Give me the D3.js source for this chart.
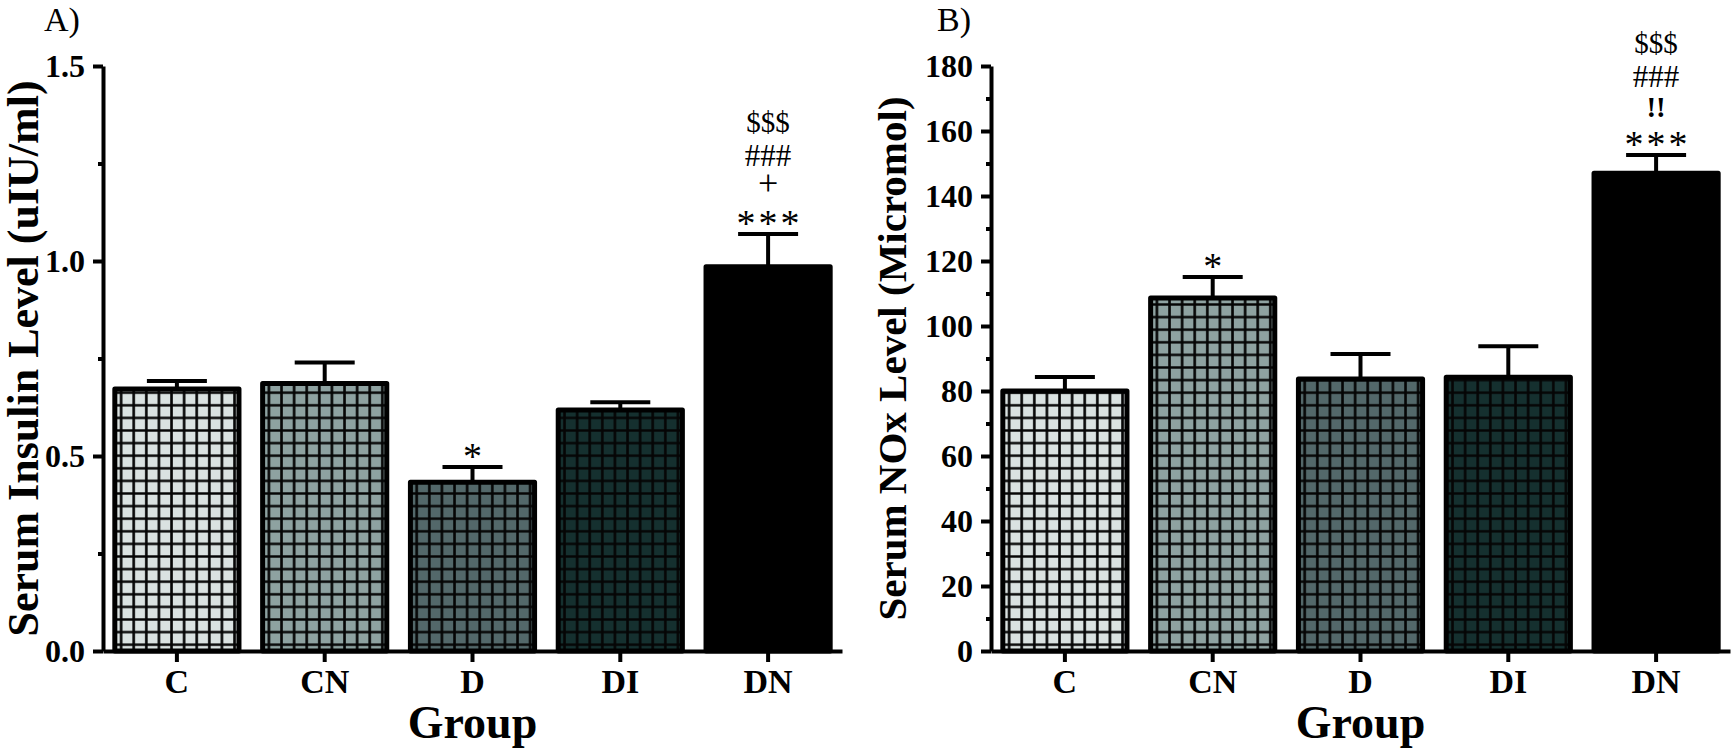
<!DOCTYPE html>
<html>
<head>
<meta charset="utf-8">
<script src="https://cdn.jsdelivr.net/npm/d3@7"></script>
<style>
  html, body { margin: 0; padding: 0; background: #ffffff; }
  svg { display: block; }
  text { font-family: "Liberation Serif", "Times New Roman", Times, serif; fill: #000; }
</style>
</head>
<body>
<svg id="chart" width="1733" height="752"></svg>
<script>
// ---------------- data ----------------
const groups = ["C", "CN", "D", "DI", "DN"];

const insulinMean = [0.672, 0.686, 0.433, 0.618, 0.985];
const insulinSEM  = [0.020, 0.054, 0.039, 0.020, 0.084];
const insulinTicks = [0, 0.5, 1.0, 1.5];
const insulinMinorTicks = [0.25, 0.75, 1.25];
const insulinMarks = [[], [], ["*"], [], ["***", "+", "###", "$$$"]];

const noxMean = [80.0, 108.6, 83.7, 84.2, 147.0];
const noxSEM  = [4.3, 6.5, 7.7, 9.6, 5.6];
const noxTicks = [0, 20, 40, 60, 80, 100, 120, 140, 160, 180];
const noxMinorTicks = [10, 30, 50, 70, 90, 110, 130, 150, 170];
const noxMarks = [[], ["*"], [], [], ["***", "!!", "###", "$$$"]];

const fillColors = ["#dae2e1", "#8ea2a1", "#53686a", "#15302f", "#000000"];

// ---------------- drawing ----------------
const svg = d3.select("#chart");
svg.append("rect").attr("width", 1733).attr("height", 752).attr("fill", "#fff");
const defs = svg.append("defs");

const markStyle = {
  "*":   { size: 38, weight: "normal", k: 0.49, ls: 0 },
  "***": { size: 38, weight: "normal", k: 0.49, ls: 3 },
  "+":   { size: 36, weight: "normal", k: 0.26, ls: 0 },
  "###": { size: 31, weight: "normal", k: 0.34, ls: 0 },
  "$$$": { size: 29, weight: "normal", k: 0.34, ls: 0 },
  "!!":  { size: 29, weight: "bold",   k: 0.34, ls: 0 }
};

function drawPanel(cfg) {
  const g = svg.append("g");
  const y = d3.scaleLinear().domain(cfg.domain).range([cfg.yBase, cfg.yTop]);
  const x = d3.scaleBand().domain(groups).range([cfg.axisX, cfg.xEnd])
    .paddingInner(0.16).paddingOuter(0.08);
  const cell = 12.6;

  // patterns
  groups.forEach((grp, i) => {
    if (i === groups.length - 1) return;
    const p = defs.append("pattern")
      .attr("id", cfg.id + "pat" + i)
      .attr("patternUnits", "userSpaceOnUse")
      .attr("x", x(grp)).attr("y", cfg.yBase)
      .attr("width", cell).attr("height", cell);
    p.append("rect").attr("width", cell).attr("height", cell).attr("fill", fillColors[i]);
    p.append("path")
      .attr("d", `M${cell / 2},0V${cell}M0,${cell / 2}H${cell}`)
      .attr("stroke", "#050505").attr("stroke-width", 2.6).attr("fill", "none");
  });

  // bars
  g.selectAll("rect.bar").data(groups).join("rect")
    .attr("class", "bar")
    .attr("x", d => x(d))
    .attr("width", x.bandwidth())
    .attr("y", (d, i) => y(cfg.mean[i]))
    .attr("height", (d, i) => cfg.yBase - y(cfg.mean[i]))
    .attr("fill", (d, i) => i === groups.length - 1 ? "#000" : `url(#${cfg.id}pat${i})`)
    .attr("stroke", "#000").attr("stroke-width", 5).attr("stroke-linejoin", "round");

  // error bars (upper only)
  const capW = 60;
  groups.forEach((grp, i) => {
    const cx = x(grp) + x.bandwidth() / 2;
    const top = y(cfg.mean[i] + cfg.sem[i]);
    g.append("line").attr("x1", cx).attr("x2", cx)
      .attr("y1", y(cfg.mean[i])).attr("y2", top)
      .attr("stroke", "#000").attr("stroke-width", 4);
    g.append("line").attr("x1", cx - capW / 2).attr("x2", cx + capW / 2)
      .attr("y1", top).attr("y2", top)
      .attr("stroke", "#000").attr("stroke-width", 4);
    // significance marks
    cfg.marks[i].forEach((m, k) => {
      const st = markStyle[m];
      const center = top - 17 - 31 * k - (k === 3 ? 2 : 0);
      g.append("text")
        .attr("x", cx + st.ls / 2).attr("y", center + st.k * st.size)
        .attr("text-anchor", "middle")
        .attr("letter-spacing", st.ls)
        .attr("font-size", st.size).attr("font-weight", st.weight)
        .text(m);
    });
  });

  // y axis minor ticks
  const yMinor = g.append("g").attr("transform", `translate(${cfg.axisX},0)`)
    .call(d3.axisLeft(y).tickValues(cfg.minor).tickSize(5).tickSizeOuter(0).tickFormat(""));
  yMinor.select(".domain").remove();
  yMinor.selectAll("line").attr("stroke", "#000").attr("stroke-width", 4);

  // y axis major
  const yAx = g.append("g").attr("transform", `translate(${cfg.axisX},0)`)
    .call(d3.axisLeft(y).tickValues(cfg.ticks).tickSize(10).tickSizeOuter(0)
      .tickPadding(8).tickFormat(cfg.fmt));
  yAx.select(".domain").attr("stroke", "#000").attr("stroke-width", 4);
  yAx.selectAll(".tick line").attr("stroke", "#000").attr("stroke-width", 4);
  yAx.selectAll(".tick text")
    .attr("font-family", '"Liberation Serif", "Times New Roman", serif')
    .attr("font-size", 32).attr("font-weight", "bold").attr("fill", "#000");

  // x axis
  const xAx = g.append("g").attr("transform", `translate(0,${cfg.yBase})`)
    .call(d3.axisBottom(x).tickSize(11).tickSizeOuter(0).tickPadding(7));
  xAx.select(".domain").attr("stroke", "#000").attr("stroke-width", 4);
  xAx.selectAll(".tick line").attr("stroke", "#000").attr("stroke-width", 4);
  xAx.selectAll(".tick text")
    .attr("font-family", '"Liberation Serif", "Times New Roman", serif')
    .attr("font-size", 34).attr("font-weight", "bold").attr("fill", "#000");

  // axis titles
  g.append("text")
    .attr("transform", `translate(${cfg.titleX},${(cfg.yTop + cfg.yBase) / 2}) rotate(-90)`)
    .attr("text-anchor", "middle").attr("font-size", cfg.titleSize).attr("font-weight", "bold")
    .text(cfg.yTitle);
  g.append("text")
    .attr("x", (x(groups[0]) + x(groups[groups.length - 1]) + x.bandwidth()) / 2)
    .attr("y", 738)
    .attr("text-anchor", "middle").attr("font-size", 46).attr("font-weight", "bold")
    .text("Group");

  // panel letter
  g.append("text").attr("x", cfg.letterX).attr("y", 31)
    .attr("font-size", 34).text(cfg.letter);
}

drawPanel({
  id: "A", letter: "A)", letterX: 44,
  axisX: 103, xEnd: 842, yTop: 66, yBase: 651,
  domain: [0, 1.5], ticks: insulinTicks, minor: insulinMinorTicks,
  fmt: d3.format(".1f"),
  mean: insulinMean, sem: insulinSEM, marks: insulinMarks,
  yTitle: "Serum Insulin Level (uIU/ml)", titleX: 38, titleSize: 44
});

drawPanel({
  id: "B", letter: "B)", letterX: 937,
  axisX: 991, xEnd: 1730, yTop: 66, yBase: 651,
  domain: [0, 180], ticks: noxTicks, minor: noxMinorTicks,
  fmt: d3.format("d"),
  mean: noxMean, sem: noxSEM, marks: noxMarks,
  yTitle: "Serum NOx Level (Micromol)", titleX: 906, titleSize: 41
});
</script>
</body>
</html>
